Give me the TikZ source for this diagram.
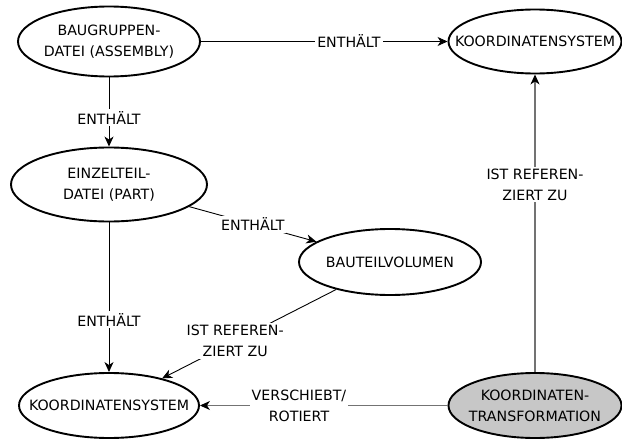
\documentclass[tikz,border=0pt]{standalone}
\usepackage{fontspec}
\setmainfont{DejaVu Sans}
\usetikzlibrary{shapes.geometric,arrows.meta}
\begin{document}
\begin{tikzpicture}[x=1pt,y=-1pt,
  font=\fontsize{14.2}{21}\selectfont,
  % fixed-size ellipse; its caption is set as a centred label so it cannot grow
  concept/.style={ellipse,draw=black,line width=1.9pt,inner sep=0pt,
    label={[align=center,inner sep=0pt]center:#1}},
  link/.style={line width=0.9pt,-{Stealth[length=10pt,width=9pt,inset=3pt]}},
  greylink/.style={link,line width=1.1pt,draw=black!55,-{Stealth[length=10pt,width=9pt,inset=3pt,fill=black,color=black]}},
  lbl/.style={fill=white,inner sep=2pt,align=center,text=black}]
\useasboundingbox (0,0) rectangle (622,439);

% concepts
\node[concept={BAUGRUPPEN-\\DATEI (ASSEMBLY)},minimum width=182pt,minimum height=70pt] (asm) at (109,41.5) {};
\node[concept={KOORDINATENSYSTEM},minimum width=173pt,minimum height=64pt] (ksA) at (535,41.5) {};
\node[concept={EINZELTEIL-\\DATEI (PART)},minimum width=196pt,minimum height=74pt] (part) at (109,184.5) {};
\node[concept={BAUTEILVOLUMEN},minimum width=182pt,minimum height=66pt] (vol) at (390,262) {};
\node[concept={KOORDINATENSYSTEM},minimum width=180pt,minimum height=65pt] (ksB) at (109,405.5) {};
\node[concept={KOORDINATEN-\\TRANSFORMATION},fill=black!22,minimum width=173pt,minimum height=65pt] (trf) at (535,405.5) {};

% relations
\draw[link] (asm) -- node[lbl,pos=0.6] {ENTHÄLT} (ksA);
\draw[link] (asm) -- node[lbl,pos=0.58] {ENTHÄLT} (part);
\draw[link] (part) -- node[lbl,pos=0.5] {ENTHÄLT} (vol);
\draw[link] (part) -- node[lbl,pos=0.65] {ENTHÄLT} (ksB);
\draw[link] (vol) -- node[lbl,pos=0.58] {IST REFEREN-\\ZIERT ZU} (ksB);
\draw[greylink] (trf) -- node[lbl,pos=0.6] {VERSCHIEBT/\\ROTIERT} (ksB);
\draw[greylink] (trf) -- node[lbl,pos=0.63] {IST REFEREN-\\ZIERT ZU} (ksA);
\end{tikzpicture}
\end{document}
